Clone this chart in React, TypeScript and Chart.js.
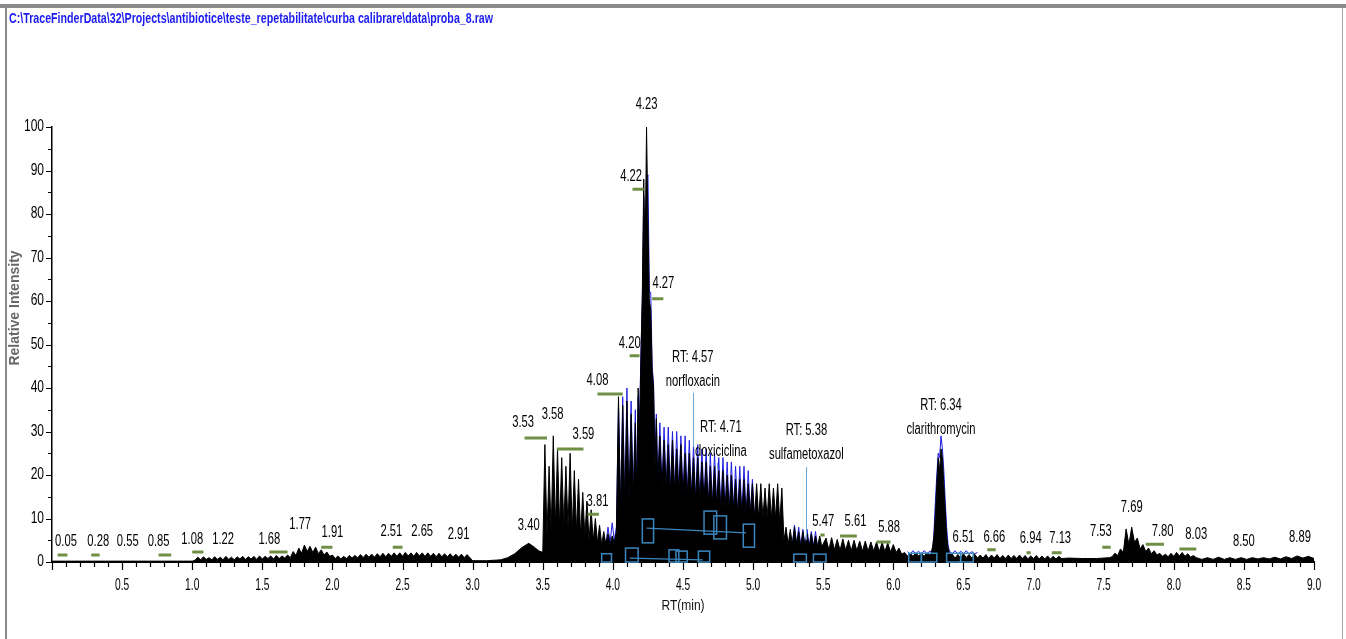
import React, { useEffect, useRef } from 'react';
import { Chart, registerables } from 'chart.js';

Chart.register(...registerables);

const TITLE =
  'C:\\TraceFinderData\\32\\Projects\\antibiotice\\teste_repetabilitate\\curba calibrare\\data\\proba_8.raw';

// ---------- TIC trace (black) ----------
const leadRt = [0, 1.0];
const leadValues = [0.2, 0.2];
// RT 1.02 -> 1.70, every 0.02 min
const earlyNoise = [0.4, 1.1, 0.5, 1.2, 0.6, 1.0, 0.5, 1.2, 0.6, 1.1, 0.5, 1.3, 0.6, 1.1, 0.5, 1.2, 0.7, 1.3, 0.6, 1.2, 0.7, 1.3, 0.6, 1.4, 0.7, 1.3, 0.8, 1.4, 0.7, 1.5, 0.8, 1.4, 0.9, 1.6, 1.0];
// RT 1.72 -> 1.98, every 0.02 min
const bump177 = [2.4, 1.5, 3.2, 2.0, 3.9, 2.4, 3.6, 2.2, 3.4, 1.9, 2.8, 1.6, 2.3, 1.3];
// RT 2.00 -> 2.98, every 0.02 min
const hump265 = [1.6, 0.8, 1.4, 0.7, 1.3, 0.8, 1.5, 0.9, 1.5, 1.0, 1.7, 1.0, 1.8, 1.1, 1.8, 1.1, 1.9, 1.2, 2.0, 1.2, 2.0, 1.3, 2.1, 1.3, 2.1, 1.3, 2.2, 1.4, 2.1, 1.3, 2.2, 1.4, 2.1, 1.3, 2.1, 1.3, 2.0, 1.2, 2.0, 1.2, 1.9, 1.2, 1.9, 1.1, 1.8, 1.1, 1.8, 1.0, 1.7, 1.0];
// explicit points of the smooth hump at 3.40
const hump340Rt = [3.0, 3.1, 3.2, 3.25, 3.3, 3.35, 3.4, 3.44, 3.47];
const hump340 = [0.3, 0.3, 0.5, 1.0, 1.9, 3.3, 4.3, 3.4, 2.6];
// RT 3.500 -> 4.160, every 0.015 min
const cluster353 = [2.2, 27, 6, 22, 7, 29, 8, 26, 8, 24, 8, 22, 8, 25, 7, 21, 7, 19, 6, 16, 6, 14, 5, 12, 5, 10, 4.5, 8.5, 4, 7, 4, 6.5, 4, 6, 4.5, 7, 38, 11, 36, 13, 37, 14, 34, 15, 32];
// RT 4.17 -> 4.31, every 0.01 min
const mainPeak = [16, 40, 30, 47, 62, 88, 70, 100, 78, 60, 58, 44, 40, 22, 33];
// RT 4.320 -> 5.490, every 0.015 min
const tail432 = [18, 29, 17, 28, 17, 27, 16, 28, 16, 26, 16, 27, 15, 25, 15, 25, 15, 24, 14, 24, 14, 23, 14, 23, 13, 22, 13, 22, 13, 21, 12, 21, 12, 20, 12, 20, 12, 19, 11, 19, 11, 19, 11, 18, 11, 18, 10, 18, 10, 18, 10, 17, 10, 18, 10, 17, 10, 18, 9, 17, 5, 8, 4, 7.5, 4, 8, 4, 7, 3.5, 7, 3.5, 6.5, 3.5, 6.5, 3.5, 6, 3.5, 6, 3.5];
// RT 5.52 -> 6.06, every 0.02 min
const late552 = [5.5, 2.8, 5.6, 2.8, 5.2, 2.7, 5.3, 2.7, 5.0, 2.6, 5.0, 2.6, 4.8, 2.5, 4.8, 2.5, 4.6, 2.5, 4.6, 2.4, 4.5, 2.4, 4.4, 2.3, 4.0, 2.2, 3.2, 1.8];
// RT 6.08 -> 6.26, every 0.02 min
const preClar = [2.2, 1.4, 2.0, 1.3, 2.1, 1.4, 2.0, 1.3, 2.1, 1.6];
// RT 6.27 -> 6.41, every 0.01 min
const clarPeak = [2.2, 3.5, 6, 11, 18, 24, 21, 26, 24, 18, 12, 6, 3.2, 2.2, 1.6];
// RT 6.42 -> 7.20, every 0.02 min
const postClar = [1.8, 0.9, 1.7, 0.9, 1.9, 1.0, 1.7, 0.9, 1.8, 0.9, 1.6, 0.9, 1.7, 0.8, 1.6, 0.9, 1.7, 0.8, 1.5, 0.8, 1.6, 0.8, 1.5, 0.8, 1.6, 0.8, 1.5, 0.7, 1.4, 0.8, 1.5, 0.7, 1.4, 0.7, 1.4, 0.7, 1.3, 0.7, 1.3, 0.8];
const flatRt = [7.25, 7.35, 7.45, 7.54];
const flatValues = [0.9, 0.8, 0.8, 1.0];
// RT 7.56 -> 7.92, every 0.02 min
const peak769 = [1.2, 2.0, 1.5, 3.0, 2.2, 7.6, 4.0, 8.0, 4.5, 5.5, 3.0, 4.0, 2.4, 3.2, 1.9, 2.6, 1.6, 2.0, 1.3];
// RT 7.94 -> 8.14, every 0.02 min
const hump803 = [1.8, 1.2, 2.0, 1.3, 2.2, 1.4, 2.2, 1.3, 1.9, 1.1, 1.5];
// RT 8.16 -> 9.00, every 0.04 min
const tailEnd = [1.0, 0.6, 1.0, 0.6, 1.1, 0.6, 1.0, 0.6, 1.0, 0.6, 1.0, 0.7, 1.0, 0.7, 1.1, 0.7, 1.2, 0.8, 1.4, 0.9, 1.3, 0.8];

// ---------- extracted-ion traces (blue) ----------
const xic395 = [4, 8, 4.5, 9, 5, 8, 36, 12, 38, 13, 40, 14, 37, 15, 35]; // 3.950 -> 4.160, 0.015
const xicMain = [15, 38, 32, 48, 60, 84, 72, 88, 89, 62, 62, 45, 41, 24, 34]; // 4.17 -> 4.31, 0.01
const xic432 = [18, 32, 17, 31, 17, 31, 16, 30, 16, 30, 16, 29, 15, 29, 15, 28, 15, 27, 14, 27, 14, 26, 14, 26, 13, 25, 13, 25, 13, 24, 12, 24, 12, 23, 12, 23, 12, 22, 11, 22, 11, 22, 11, 21, 11, 19, 10]; // 4.320 -> 5.010, 0.015
const xic528 = [4, 8.5, 4, 8, 3.5, 7.5, 3.5, 7.5, 3.5, 7, 3.5, 7, 3.5]; // 5.280 -> 5.460, 0.015
const xic610 = [2.4, 1.8, 2.6, 1.9, 2.5, 1.8, 2.6, 1.9, 2.5, 2.2]; // 6.10 -> 6.28, 0.02
const xicClar = [7, 14, 20, 25, 24, 29, 26, 21, 14, 8, 4]; // 6.29 -> 6.39, 0.01
const xic640 = [2.5, 1.9, 2.6, 1.8, 2.5, 1.9, 2.6, 1.8, 2.4, 1.9, 2.2]; // 6.40 -> 6.60, 0.02

// ---------- axis tick labels ----------
const xTickValues = [0.5, 1.0, 1.5, 2.0, 2.5, 3.0, 3.5, 4.0, 4.5, 5.0, 5.5, 6.0, 6.5, 7.0, 7.5, 8.0, 8.5, 9.0];
const yTickValues = [0, 10, 20, 30, 40, 50, 60, 70, 80, 90, 100];

// ---------- peak labels ----------
const peakLabelText = ['0.05', '0.28', '0.55', '0.85', '1.08', '1.22', '1.68', '1.77', '1.91', '2.51', '2.65', '2.91', '3.40', '3.53', '3.58', '3.59', '3.81', '4.08', '4.20', '4.22', '4.23', '4.27', '5.47', '5.61', '5.88', '6.51', '6.66', '6.94', '7.13', '7.53', '7.69', '7.80', '8.03', '8.50', '8.89'];
const peakLabelRt = [0.10, 0.33, 0.54, 0.76, 1.00, 1.22, 1.55, 1.77, 2.00, 2.42, 2.64, 2.90, 3.40, 3.36, 3.57, 3.79, 3.89, 3.89, 4.12, 4.13, 4.24, 4.36, 5.50, 5.73, 5.97, 6.50, 6.72, 6.98, 7.19, 7.48, 7.70, 7.92, 8.16, 8.50, 8.90];
const peakLabelLevel = [4.8, 4.6, 4.6, 4.6, 5.1, 5.1, 5.1, 8.5, 6.7, 6.9, 6.9, 6.2, 8.3, 32.0, 33.8, 29.2, 13.8, 41.8, 50.3, 88.5, 105.1, 63.9, 9.2, 9.2, 7.8, 5.7, 5.7, 5.3, 5.3, 6.9, 12.4, 7.1, 6.2, 4.6, 5.5];

// ---------- green peak markers ----------
const greenStart = [0.04, 0.28, 0.76, 1.00, 1.55, 1.92, 2.43, 3.37, 3.60, 3.82, 3.89, 4.12, 4.14, 4.28, 5.48, 5.62, 5.88, 6.67, 6.95, 7.13, 7.49, 7.80, 8.04];
const greenEnd = [0.11, 0.34, 0.85, 1.08, 1.68, 2.00, 2.50, 3.53, 3.79, 3.90, 4.07, 4.19, 4.22, 4.36, 5.51, 5.74, 5.98, 6.73, 6.98, 7.20, 7.55, 7.93, 8.16];
const greenLevel = [1.6, 1.6, 1.6, 2.3, 2.3, 3.4, 3.4, 28.5, 26.0, 11.0, 38.6, 47.4, 85.7, 60.5, 6.2, 6.0, 4.6, 2.8, 2.1, 2.1, 3.4, 4.1, 3.0];

// ---------- compound annotations ----------
const compoundName = ['norfloxacin', 'doxiciclina', 'sulfametoxazol', 'clarithromycin'];
const compoundRt = ['4.57', '4.71', '5.38', '6.34'];
const compoundLabelRt = [4.57, 4.77, 5.38, 6.34];
const compoundLabelLevel = [47.1, 31.0, 30.3, 35.9];
const stemRt = [4.57, 4.74, 5.38];
const stemTop = [38.9, 22.8, 21.8];
const stemBottom = [26.4, 21.1, 5.1];

// ---------- integration boxes ----------
const boxStart = [4.21, 4.65, 4.72, 4.93, 3.92, 4.09, 4.40, 4.45, 4.61, 5.29, 5.43, 6.11, 6.20, 6.38, 6.48];
const boxEnd = [4.29, 4.74, 4.81, 5.01, 3.99, 4.18, 4.47, 4.53, 4.69, 5.38, 5.52, 6.20, 6.31, 6.48, 6.57];
const boxLow = [4.4, 6.4, 5.3, 3.4, 0, 0, 0, 0, 0, 0, 0, 0, 0, 0, 0];
const boxHigh = [9.9, 11.7, 10.6, 8.7, 1.9, 3.2, 2.8, 2.5, 2.5, 1.8, 1.8, 2.0, 2.0, 2.0, 2.0];
const linkFromRt = [4.24, 4.12];
const linkFromLevel = [7.8, 0.9];
const linkToRt = [4.95, 4.64];
const linkToLevel = [6.7, 0.5];

type Pt = { x: number; y: number | null };

function seq(start: number, step: number, values: number[]): Pt[] {
  return values.map((v, i) => ({ x: +(start + i * step).toFixed(3), y: v }));
}
function pairs(rt: number[], values: number[]): Pt[] {
  return rt.map((r, i) => ({ x: r, y: values[i] }));
}

const ticPoints: Pt[] = [
  ...pairs(leadRt, leadValues),
  ...seq(1.02, 0.02, earlyNoise),
  ...seq(1.72, 0.02, bump177),
  ...seq(2.0, 0.02, hump265),
  ...pairs(hump340Rt, hump340),
  ...seq(3.5, 0.015, cluster353),
  ...seq(4.17, 0.01, mainPeak),
  ...seq(4.32, 0.015, tail432),
  ...seq(5.52, 0.02, late552),
  ...seq(6.08, 0.02, preClar),
  ...seq(6.27, 0.01, clarPeak),
  ...seq(6.42, 0.02, postClar),
  ...pairs(flatRt, flatValues),
  ...seq(7.56, 0.02, peak769),
  ...seq(7.94, 0.02, hump803),
  ...seq(8.16, 0.04, tailEnd),
];

const gap = (x: number): Pt => ({ x, y: null });
const xicPoints: Pt[] = [
  ...seq(3.95, 0.015, xic395),
  ...seq(4.17, 0.01, xicMain),
  ...seq(4.32, 0.015, xic432),
  gap(5.1),
  ...seq(5.28, 0.015, xic528),
  gap(5.8),
  ...seq(6.1, 0.02, xic610),
  ...seq(6.29, 0.01, xicClar),
  ...seq(6.4, 0.02, xic640),
];

const FONT = '"Liberation Sans", Arial, sans-serif';

function text(
  ctx: CanvasRenderingContext2D,
  s: string,
  x: number,
  y: number,
  font: string,
  color: string,
  align: CanvasTextAlign,
  sx: number
) {
  ctx.save();
  ctx.translate(x, y);
  ctx.scale(sx, 1);
  ctx.font = font;
  ctx.fillStyle = color;
  ctx.textAlign = align;
  ctx.textBaseline = 'middle';
  ctx.fillText(s, 0, 0);
  ctx.restore();
}

const decorPlugin = {
  id: 'decor',
  beforeDraw(chart: any) {
    const { ctx, width, height } = chart;
    ctx.save();
    ctx.fillStyle = '#ffffff';
    ctx.fillRect(0, 0, width, height);
    ctx.fillStyle = '#8a8a8a';
    ctx.fillRect(0, 4, width, 4);
    ctx.fillRect(5, 4, 2, height - 4);
    ctx.fillStyle = '#a8a8a8';
    ctx.fillRect(1342, 8, 1, height - 8);
    ctx.fillStyle = '#1b1bf2';
    ctx.font = 'bold 14px ' + FONT;
    ctx.textAlign = 'left';
    ctx.textBaseline = 'middle';
    ctx.fillText(TITLE, 9, 19, 484);
    ctx.restore();
  },
  afterDraw(chart: any) {
    const { ctx, chartArea } = chart;
    const xs = chart.scales.x;
    const ys = chart.scales.y;
    const X = (v: number) => xs.getPixelForValue(v);
    const Y = (v: number) => ys.getPixelForValue(v);
    ctx.save();

    // axis ticks
    ctx.strokeStyle = '#000';
    ctx.lineWidth = 1.2;
    ctx.beginPath();
    for (let k = 0; k <= 90; k++) {
      const px = Math.round(X(k / 10)) + 0.5;
      const len = k % 5 === 0 ? 8 : 5;
      ctx.moveTo(px, chartArea.bottom);
      ctx.lineTo(px, chartArea.bottom + len);
    }
    for (let k = 0; k <= 20; k++) {
      const py = Math.round(Y(k * 5)) + 0.5;
      const len = k % 2 === 0 ? 6 : 4;
      ctx.moveTo(chartArea.left - len, py);
      ctx.lineTo(chartArea.left, py);
    }
    ctx.stroke();

    // tick labels
    const tickFont = '16px ' + FONT;
    for (const v of xTickValues) {
      text(ctx, v.toFixed(1), X(v), chartArea.bottom + 24, tickFont, '#000', 'center', 0.64);
    }
    for (const v of yTickValues) {
      text(ctx, String(v), chartArea.left - 8, Y(v), tickFont, '#000', 'right', 0.75);
    }

    // axis titles
    text(ctx, 'RT(min)', (chartArea.left + chartArea.right) / 2, 606, '15px ' + FONT, '#111', 'center', 0.8);
    ctx.save();
    ctx.translate(15, 308);
    ctx.rotate(-Math.PI / 2);
    ctx.fillStyle = '#666';
    ctx.font = 'bold 14px ' + FONT;
    ctx.textAlign = 'center';
    ctx.textBaseline = 'middle';
    ctx.fillText('Relative Intensity', 0, 0, 158);
    ctx.restore();

    // integration boxes
    ctx.strokeStyle = '#3b86bd';
    ctx.lineWidth = 1.5;
    for (let i = 0; i < boxStart.length; i++) {
      const x1 = X(boxStart[i]);
      const x2 = X(boxEnd[i]);
      const y1 = Y(boxHigh[i]);
      const y2 = Y(boxLow[i]);
      ctx.strokeRect(x1, y1, x2 - x1, y2 - y1);
    }
    ctx.lineWidth = 1.2;
    ctx.beginPath();
    for (let i = 0; i < linkFromRt.length; i++) {
      ctx.moveTo(X(linkFromRt[i]), Y(linkFromLevel[i]));
      ctx.lineTo(X(linkToRt[i]), Y(linkToLevel[i]));
    }
    ctx.stroke();

    // compound stems
    ctx.strokeStyle = '#6aa6d6';
    ctx.lineWidth = 1;
    ctx.beginPath();
    for (let i = 0; i < stemRt.length; i++) {
      const px = Math.round(X(stemRt[i])) + 0.5;
      ctx.moveTo(px, Y(stemTop[i]));
      ctx.lineTo(px, Y(stemBottom[i]));
    }
    ctx.stroke();

    // green markers
    ctx.strokeStyle = '#6f8f45';
    ctx.lineWidth = 3;
    ctx.beginPath();
    for (let i = 0; i < greenStart.length; i++) {
      const py = Y(greenLevel[i]);
      ctx.moveTo(X(greenStart[i]), py);
      ctx.lineTo(X(greenEnd[i]), py);
    }
    ctx.stroke();

    // peak labels
    const labFont = '16px ' + FONT;
    for (let i = 0; i < peakLabelText.length; i++) {
      text(ctx, peakLabelText[i], X(peakLabelRt[i]), Y(peakLabelLevel[i]), labFont, '#000', 'center', 0.7);
    }
    for (let i = 0; i < compoundName.length; i++) {
      const px = X(compoundLabelRt[i]);
      const py = Y(compoundLabelLevel[i]);
      text(ctx, 'RT: ' + compoundRt[i], px, py, labFont, '#000', 'center', 0.7);
      text(ctx, compoundName[i], px, py + 24, labFont, '#000', 'center', 0.7);
    }
    ctx.restore();
  },
};

export default function App() {
  const ref = useRef<HTMLCanvasElement>(null);
  useEffect(() => {
    const canvas = ref.current;
    if (!canvas) return;
    const chart = new Chart(canvas, {
      type: 'line',
      data: {
        datasets: [
          {
            label: 'TIC',
            data: ticPoints as any,
            borderColor: '#000000',
            backgroundColor: '#000000',
            borderWidth: 1,
            pointRadius: 0,
            tension: 0,
            fill: 'origin',
            order: 1,
          },
          {
            label: 'XIC',
            data: xicPoints as any,
            borderColor: '#1e1ee0',
            borderWidth: 1,
            pointRadius: 0,
            tension: 0,
            fill: false,
            spanGaps: false,
            order: 2,
          },
        ],
      },
      options: {
        responsive: false,
        animation: false,
        events: [],
        layout: { padding: { left: 0, right: 32, top: 127, bottom: 37 } },
        plugins: {
          legend: { display: false },
          tooltip: { enabled: false },
          title: { display: false },
        },
        scales: {
          x: {
            type: 'linear',
            min: 0,
            max: 9,
            grid: { display: false },
            border: { display: true, color: '#000', width: 2 },
            ticks: { display: false, stepSize: 0.5 },
            afterFit: (s: any) => {
              s.height = 40;
            },
          },
          y: {
            type: 'linear',
            min: 0,
            max: 100,
            grid: { display: false },
            border: { display: true, color: '#000', width: 1.5 },
            ticks: { display: false, stepSize: 10 },
            afterFit: (s: any) => {
              s.width = 52;
            },
          },
        },
      },
      plugins: [decorPlugin],
    });
    return () => chart.destroy();
  }, []);
  return (
    <div style={{ position: 'fixed', left: 0, top: 0, width: 1346, height: 639, background: '#fff' }}>
      <canvas ref={ref} width={1346} height={639} style={{ display: 'block', width: 1346, height: 639 }} />
    </div>
  );
}
